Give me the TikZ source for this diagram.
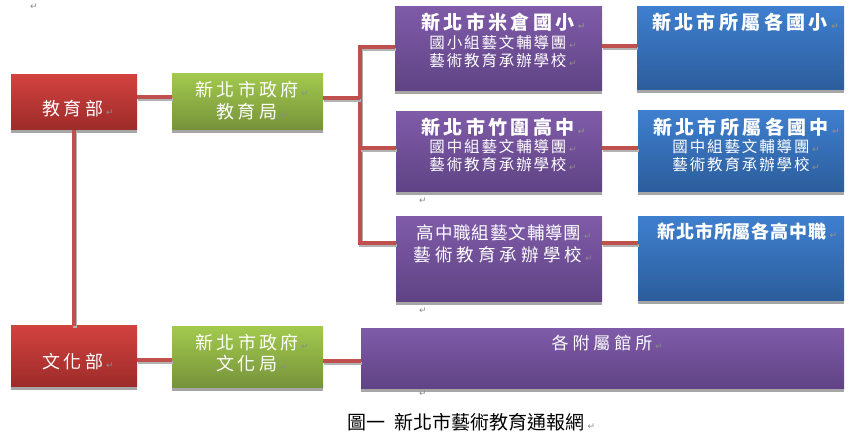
\documentclass[tikz,border=0pt]{standalone}
\usepackage{fontspec}
\setmainfont{Noto Sans CJK TC}
\newfontfamily\dejavu{DejaVu Sans}
\usetikzlibrary{shadows}
\definecolor{cLink}{HTML}{C0504D}
\definecolor{cRedA}{HTML}{D2423F}
\definecolor{cRedB}{HTML}{9C2B29}
\definecolor{cGrnA}{HTML}{A2C94E}
\definecolor{cGrnB}{HTML}{76923A}
\definecolor{cPurA}{HTML}{7F5BA8}
\definecolor{cPurB}{HTML}{5F4385}
\definecolor{cBluA}{HTML}{3E7FCE}
\definecolor{cBluB}{HTML}{2C5D9C}
\definecolor{cMark}{HTML}{8C8C8C}
\newcommand{\retmark}{\rlap{\,\textcolor{cMark}{\dejavu\fontsize{9}{9}\selectfont ↵}}}
\newcommand{\panel}[6]{%
  \node[#5, minimum width={(#2-#1)*1pt}, minimum height={(#4-#3)*1pt}] (#6) at ({(#1+#2)/2},{(#3+#4)/2}) {};}

\begin{document}
\begin{tikzpicture}[x=1pt, y=-1pt,
  box/.style={inner sep=0pt, outer sep=0pt, drop shadow={shadow xshift=0pt, shadow yshift=-3pt, fill=black!35, opacity=1}},
  redbox/.style={box, top color=cRedA, bottom color=cRedB},
  grnbox/.style={box, top color=cGrnA, bottom color=cGrnB},
  purbox/.style={box, top color=cPurA, bottom color=cPurB},
  blubox/.style={box, top color=cBluA, bottom color=cBluB},
  link/.style={draw=cLink, line width=3.5pt, preaction={draw=black!30, line width=3.5pt, transform canvas={shift={(1pt,-2.5pt)}}}},
  big/.style={text=white, inner sep=0pt, font=\fontsize{18}{18}\selectfont\addfontfeatures{LetterSpace=17}},
  ttl/.style={text=white, inner sep=0pt, font=\fontsize{19}{19}\selectfont\bfseries\addfontfeatures{LetterSpace=18}},
  sub/.style={text=white, inner sep=0pt, font=\fontsize{15.5}{15.5}\selectfont\addfontfeatures{LetterSpace=12}},
  retsign/.style={text=cMark, inner sep=0pt, font=\dejavu\fontsize{9}{9}\selectfont}]
\useasboundingbox (0,0) rectangle (857,435);
% ---- boxes: left column, bureaux, schools ------------------------------------
\panel{11}{137}{75}{130}{redbox}{edu}
\panel{172}{323}{74}{130}{grnbox}{edb}
\panel{395}{602}{7}{91}{purbox}{p1}
\panel{637}{844}{7}{90}{blubox}{b1}
\panel{396}{602}{112}{192}{purbox}{p2}
\panel{638}{844}{111}{192}{blubox}{b2}
\panel{396}{602}{217}{302}{purbox}{p3}
\panel{638}{844}{217}{301}{blubox}{b3}
\panel{11}{137}{326}{387}{redbox}{cul}
\panel{172}{323}{327}{388}{grnbox}{cub}
\panel{361}{844}{329}{389}{purbox}{pall}
% ---- connectors --------------------------------------------------------------
\coordinate (ttop) at (360,47);
\coordinate (tmid) at (360,148);
\coordinate (tbot) at (360,243);
\coordinate (tjoin) at (360,98);
\draw[link] (edu.east |- 0,97) -- (edb.west |- 0,97);
\draw[link] (edu.south -| 74,0) -- (cul.north -| 74,0);
\draw[link] (p1.west |- ttop) -- (ttop) -- (tbot) -- (p3.west |- tbot);
\draw[link] (edb.east |- tjoin) -- (tjoin);
\draw[link] (tmid) -- (p2.west |- tmid);
\draw[link] (p1.east |- 0,46) -- (b1.west |- 0,46);
\draw[link] (p2.east |- tmid) -- (b2.west |- tmid);
\draw[link] (p3.east |- tbot) -- (b3.west |- tbot);
\draw[link] (cul.east |- 0,360) -- (cub.west |- 0,360);
\draw[link] (cub.east |- 0,361) -- (pall.west |- 0,361);
% ---- texts ---------------------------------------------------------------------
\node[big] (edut) at (73,109) {教育部\retmark};
\node[big] (edb1) at (247,90) {新北市政府\retmark};
\node[big] (edb2) at (247,112) {教育局\retmark};
\node[ttl] (p1t) at (498,22) {新北市米倉國小\retmark};
\node[sub] (p1a) at (498,43) {國小組藝文輔導團\retmark};
\node[sub] (p1b) at (498,61) {藝術教育承辦學校\retmark};
\node[ttl] (b1t) at (740,22) {新北市所屬各國小\retmark};
\node[ttl] (p2t) at (498,127) {新北市竹圍高中\retmark};
\node[sub] (p2a) at (498,147) {國中組藝文輔導團\retmark};
\node[sub] (p2b) at (498,165) {藝術教育承辦學校\retmark};
\node[ttl] (b2t) at (741,127) {新北市所屬各國中\retmark};
\node[sub] (b2a) at (741,147) {國中組藝文輔導團\retmark};
\node[sub] (b2b) at (741,165) {藝術教育承辦學校\retmark};
\node[big, font=\fontsize{17.5}{17.5}\selectfont\addfontfeatures{LetterSpace=5}] (p3a) at (499,233) {高中職組藝文輔導團\retmark};
\node[big, font=\fontsize{17.5}{17.5}\selectfont\addfontfeatures{LetterSpace=23}] (p3b) at (498,255) {藝術教育承辦學校\retmark};
\node[ttl, font=\fontsize{18}{18}\selectfont\bfseries\addfontfeatures{LetterSpace=5}] (b3t) at (742,232) {新北市所屬各高中職\retmark};
\node[big] (cult) at (73,362) {文化部\retmark};
\node[big] (cub1) at (247,343) {新北市政府\retmark};
\node[big] (cub2) at (247,364) {文化局\retmark};
\node[big, font=\fontsize{17}{17}\selectfont\addfontfeatures{LetterSpace=23}] (pallt) at (602,343) {各附屬館所\retmark};
% ---- caption and stray paragraph marks ---------------------------------------
\node[inner sep=0pt, font=\fontsize{19}{19}\selectfont] (cap) at (466,422) {圖一\makebox[9pt]{　}新北市藝術教育通報網\retmark};
\node[retsign] (m1) at (34,7) {↵};
\node[retsign] (m2) at (423,201) {↵};
\node[retsign] (m3) at (423,311) {↵};
\node[retsign] (m4) at (423,394) {↵};
\end{tikzpicture}
\end{document}
